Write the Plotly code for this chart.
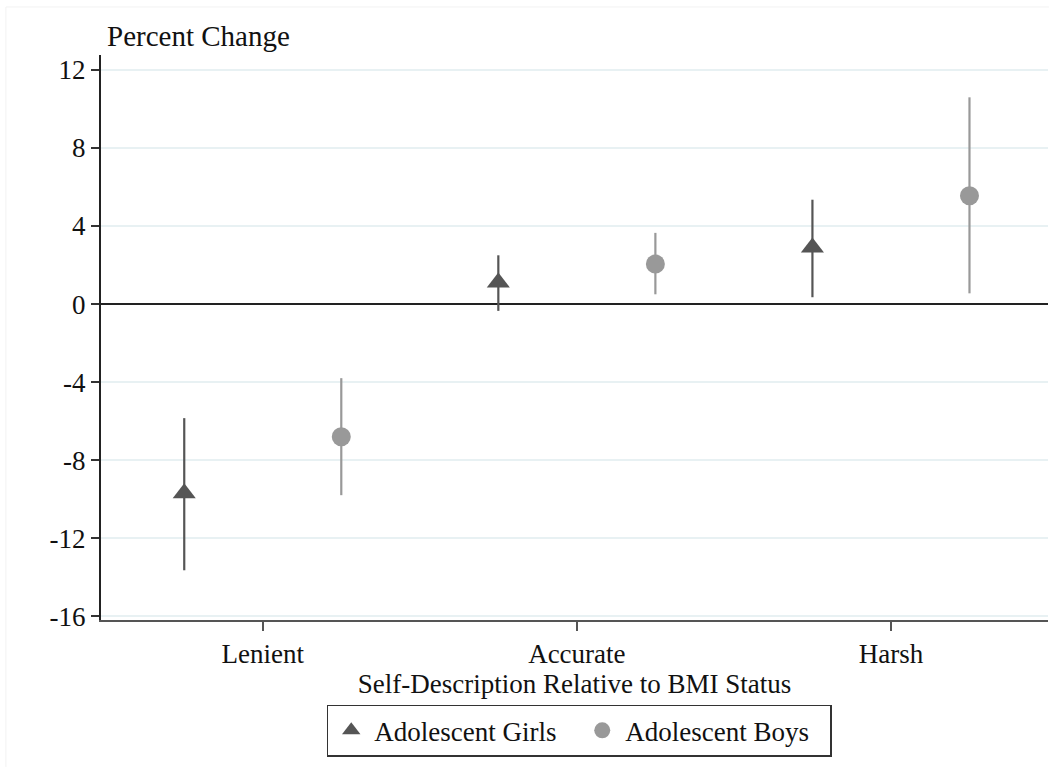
import plotly.graph_objects as go

categories = ["Lenient", "Accurate", "Harsh"]
girls_est = [-9.7, 1.1, 2.9]
girls_lo = [-13.65, -0.35, 0.35]
girls_hi = [-5.85, 2.5, 5.35]
boys_est = [-6.8, 2.05, 5.55]
boys_lo = [-9.8, 0.5, 0.55]
boys_hi = [-3.8, 3.65, 10.6]
yticks = [-16, -12, -8, -4, 0, 4, 8, 12]

cat_pos = [i + 1 for i in range(len(categories))]
FONT = "Liberation Serif"
GIRL_C = "#555555"
BOY_C = "#999999"
FS = 27

fig = go.Figure()
fig.add_trace(go.Scatter(
    x=[p - 0.25 for p in cat_pos], y=girls_est, mode="markers",
    name="Adolescent Girls",
    marker=dict(symbol="triangle-up", size=20, color=GIRL_C),
    error_y=dict(type="data", symmetric=False,
                 array=[h - e for h, e in zip(girls_hi, girls_est)],
                 arrayminus=[e - l for e, l in zip(girls_est, girls_lo)],
                 color=GIRL_C, thickness=2.2, width=0),
))
fig.add_trace(go.Scatter(
    x=[p + 0.25 for p in cat_pos], y=boys_est, mode="markers",
    name="Adolescent Boys",
    marker=dict(symbol="circle", size=19, color=BOY_C),
    error_y=dict(type="data", symmetric=False,
                 array=[h - e for h, e in zip(boys_hi, boys_est)],
                 arrayminus=[e - l for e, l in zip(boys_est, boys_lo)],
                 color=BOY_C, thickness=2.2, width=0),
))

fig.update_layout(
    width=1049, height=770,
    margin=dict(l=101, r=1, t=55, b=150),
    paper_bgcolor="white", plot_bgcolor="white",
    font=dict(family=FONT, size=FS, color="#111111"),
    showlegend=True,
    legend=dict(orientation="h", x=0.505, xanchor="center", y=-0.15, yanchor="top",
                bordercolor="#333333", borderwidth=1.5, bgcolor="white",
                font=dict(family=FONT, size=FS), itemwidth=36, traceorder="normal",
                entrywidth=200, entrywidthmode="pixels", tracegroupgap=0),
    xaxis=dict(range=[0.485, 3.5], tickvals=cat_pos, ticktext=categories,
               showgrid=False, zeroline=False, showline=True, linecolor="#555555",
               linewidth=2, ticks="outside", ticklen=9, tickwidth=2, tickcolor="#555555",
               title=dict(text="Self-Description Relative to BMI Status", standoff=0,
                          font=dict(family=FONT, size=FS)),
               tickfont=dict(family=FONT, size=FS)),
    yaxis=dict(range=[-16.2, 12.77], tickvals=yticks, ticktext=[str(v) for v in yticks],
               showgrid=True, gridcolor="#e8f1f3", gridwidth=1.5,
               zeroline=True, zerolinecolor="#222222", zerolinewidth=2,
               showline=True, linecolor="#222222", linewidth=2,
               ticks="outside", ticklen=8, tickwidth=1.5, tickcolor="#333333",
               tickfont=dict(family=FONT, size=FS)),
    annotations=[dict(text="Percent Change", xref="paper", yref="paper", x=0, y=1,
                      xanchor="left", yanchor="bottom", xshift=4, yshift=1,
                      showarrow=False, font=dict(family=FONT, size=29, color="#111111"))],
    shapes=[dict(type="line", xref="paper", yref="paper", x0=-0.1004, x1=-0.1004,
                 y0=-0.26, y1=1.085, line=dict(color="#f2f2f2", width=1)),
            dict(type="line", xref="paper", yref="paper", x0=-0.1004, x1=1.001,
                 y0=1.085, y1=1.085, line=dict(color="#f2f2f2", width=1))],
)

fig.write_html("out.html")
